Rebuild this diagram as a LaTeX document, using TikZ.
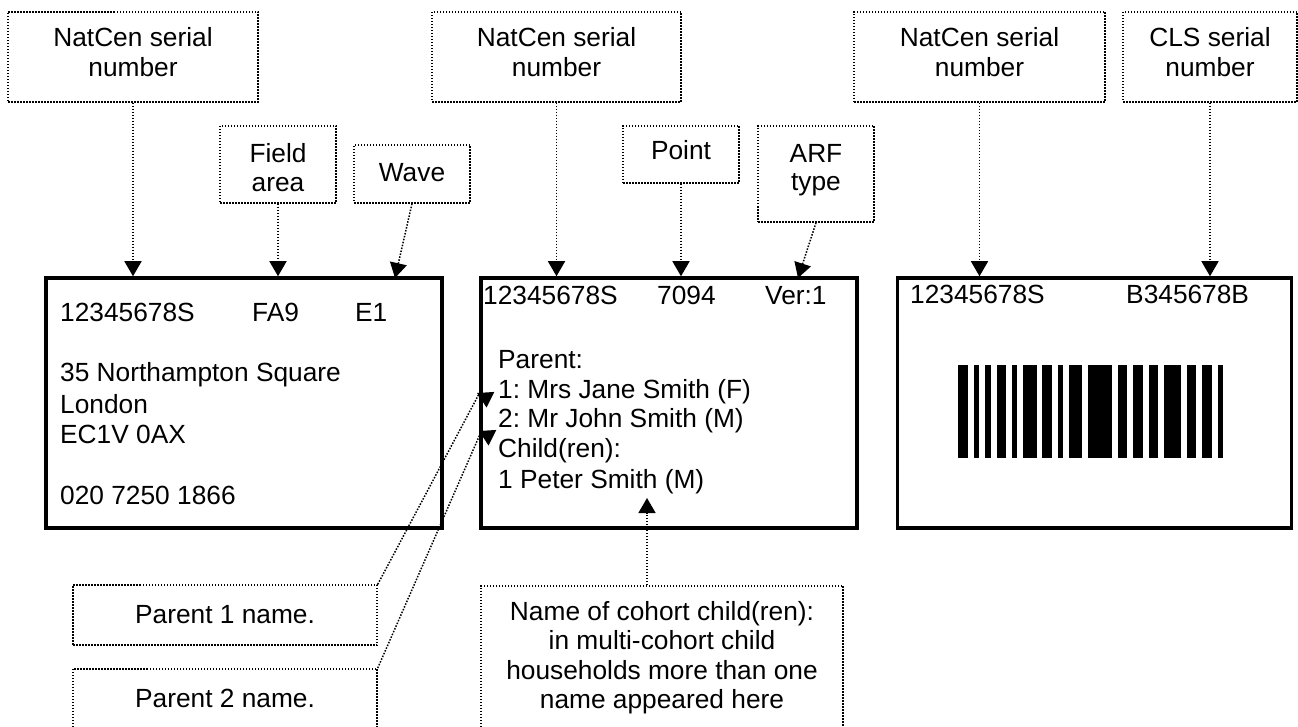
\documentclass[tikz,border=0pt]{standalone}
\usepackage{fontspec}
\setmainfont{Liberation Sans}
\usetikzlibrary{arrows.meta}
\frenchspacing
\begin{document}
\begin{tikzpicture}[x=1pt,y=-1pt,
  txt/.style={font=\fontsize{26.3}{30}\selectfont, inner sep=0pt, anchor=base},
  txtw/.style={txt, anchor=base west},
  note/.style={draw, line width=1.5pt, dash pattern=on 1.5pt off 1.5pt, inner sep=0pt},
  card/.style={draw, line width=3.5pt, inner sep=0pt},
  ptr/.style={line width=1.5pt, dash pattern=on 1.5pt off 1.5pt, -{Triangle[width=17pt,length=15pt]}}]
\useasboundingbox (0,0) rectangle (1298,727);
\clip (0,0) rectangle (1298,727);

% ---- top notes ----
\node[note, minimum width=250pt, minimum height=90pt] (n1) at (133,57) {};
\node[txt] (n1a) at (133,47) {NatCen serial};
\node[txt] (n1b) at (133,77) {number};

\node[note, minimum width=116pt, minimum height=77pt] (fa) at (278,164.5) {};
\node[txt] (faa) at (278,163) {Field};
\node[txt] (fab) at (278,192) {area};

\node[note, minimum width=116pt, minimum height=58pt] (wv) at (412,174) {};
\node[txt] (wva) at (412,182) {Wave};

\node[note, minimum width=249pt, minimum height=90pt] (n2) at (556.5,57) {};
\node[txt] (n2a) at (556.5,47) {NatCen serial};
\node[txt] (n2b) at (556.5,77) {number};

\node[note, minimum width=116pt, minimum height=57pt] (pt) at (681,154.5) {};
\node[txt] (pta) at (681,160) {Point};

\node[note, minimum width=116pt, minimum height=96pt] (arf) at (816,174) {};
\node[txt] (arfa) at (816,163) {ARF};
\node[txt] (arfb) at (816,191) {type};

\node[note, minimum width=251pt, minimum height=90pt] (n3) at (979.5,57) {};
\node[txt] (n3a) at (979.5,47) {NatCen serial};
\node[txt] (n3b) at (979.5,77) {number};

\node[note, minimum width=174pt, minimum height=90pt] (cls) at (1210,57) {};
\node[txt] (clsa) at (1210,47) {CLS serial};
\node[txt] (clsb) at (1210,77) {number};

% ---- cards ----
\node[card, minimum width=396pt, minimum height=250pt] (b1) at (244,403) {};
\node[card, minimum width=376pt, minimum height=250pt] (b2) at (669,403) {};
\node[card, minimum width=394pt, minimum height=250pt] (b3) at (1094.5,403) {};

% card 1 text
\node[txtw] (t11) at (60,321) {12345678S};
\node[txtw] (t12) at (252,321) {FA9};
\node[txtw] (t13) at (355,321) {E1};
\node[txtw] (t14) at (60,381) {35 Northampton Square};
\node[txtw] (t15) at (60,413) {London};
\node[txtw] (t16) at (60,443) {EC1V 0AX};
\node[txtw] (t17) at (60,504) {020 7250 1866};

% card 2 text
\node[txtw] (t21) at (483,305) {12345678S};
\node[txtw] (t22) at (657,305) {7094};
\node[txtw] (t23) at (765,305) {Ver:1};
\node[txtw] (t24) at (498,368) {Parent:};
\node[txtw] (t25) at (498,398) {1: Mrs Jane Smith (F)};
\node[txtw] (t26) at (498,427) {2: Mr John Smith (M)};
\node[txtw] (t27) at (498,457) {Child(ren):};
\node[txtw] (t28) at (498,488) {1 Peter Smith (M)};

% card 3 text
\node[txtw] (t31) at (910,303) {12345678S};
\node[txtw] (t32) at (1126,303) {B345678B};

% barcode
\foreach \a/\b in {958.3/968.3, 974/979.3, 985/990.7, 996.7/1006, 1011.7/1017.3,
  1023.3/1036.7, 1042/1051.7, 1057.7/1063.3, 1069/1081.7, 1087.7/1112.3,
  1118.3/1127.3, 1133.3/1142.7, 1148.7/1158.3, 1164/1180.7, 1186.7/1196,
  1202/1211.7, 1217.7/1223.3}
  \fill[black] (\a,365) rectangle (\b,458);

% ---- bottom notes ----
\node[note, minimum width=304pt, minimum height=60pt] (p1) at (225,615) {};
\node[txt] (p1a) at (225,623) {Parent 1 name.};

\node[note, minimum width=304pt, minimum height=100pt, anchor=north] (p2) at (225,668) {};
\node[txt] (p2a) at (225,707) {Parent 2 name.};

\node[note, minimum width=362pt, minimum height=180pt, anchor=north] (ch) at (662,585) {};
\node[txt] (cha) at (662,620) {Name of cohort child(ren):};
\node[txt] (chb) at (662,649) {in multi-cohort child};
\node[txt] (chc) at (662,679) {households more than one};
\node[txt] (chd) at (662,708) {name appeared here};

% ---- connectors ----
\coordinate (wvend) at (395,278);
\coordinate (arfend) at (798,278);
\coordinate (p1mid) at (479,394);
\coordinate (p1tip) at (477,393);
\coordinate (p2mid) at (481,432);
\coordinate (p2tip) at (479,431);
\coordinate (chtop) at (647,585);
\coordinate (chtip) at (647,498);

\draw[ptr] (n1.south) -- (n1.south |- b1.north);
\draw[ptr] (fa.south) -- (fa.south |- b1.north);
\draw[ptr] (wv.south) -- (wvend);
\draw[ptr] (n2.south) -- (n2.south |- b2.north);
\draw[ptr] (pt.south) -- (pt.south |- b2.north);
\draw[ptr] (arf.south) -- (arfend);
\draw[ptr] (n3.south) -- (n3.south |- b3.north);
\draw[ptr] (cls.south) -- (cls.south |- b3.north);
\draw[ptr] (p1.north east) -- (p1mid) -- (p1tip);
\draw[ptr] (p2.north east) -- (p2mid) -- (p2tip);
\draw[ptr] (chtop) -- (chtip);
\end{tikzpicture}
\end{document}
